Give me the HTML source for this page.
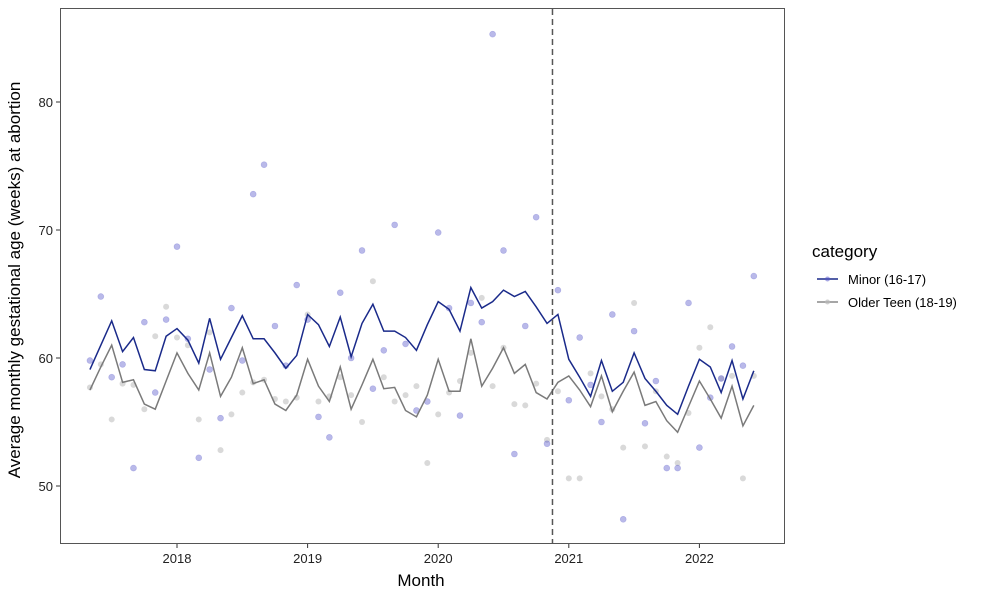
<!DOCTYPE html>
<html><head><meta charset="utf-8"><style>
html,body{margin:0;padding:0;background:#fff;}
svg{display:block;font-family:"Liberation Sans",Arial,sans-serif;}
</style></head><body>
<svg id="chart" width="1000" height="600" viewBox="0 0 1000 600">
<rect x="0" y="0" width="1000" height="600" fill="#fff"/>
<g id="grid"></g>
<rect x="60.5" y="8.5" width="724" height="535" fill="none" stroke="#555" stroke-width="1"/>
<text x="20" y="280" transform="rotate(-90 20 280)" text-anchor="middle" font-size="17" fill="#000">Average monthly gestational age (weeks) at abortion</text>
<text x="421" y="586" text-anchor="middle" font-size="17" fill="#000">Month</text>
<g>
<text x="812" y="257" font-size="17" fill="#000">category</text>
<g>
<line x1="817" y1="279" x2="838" y2="279" stroke="#1a2a8a" stroke-width="1.5"/>
<circle cx="827.5" cy="279" r="2.5" fill="#5050c8" fill-opacity="0.5"/>
<text x="848" y="284" font-size="13" fill="#000">Minor (16-17)</text>
</g>
<g>
<line x1="817" y1="302" x2="838" y2="302" stroke="#888" stroke-width="1.5"/>
<circle cx="827.5" cy="302" r="2.5" fill="#bbb" fill-opacity="0.7"/>
<text x="848" y="307" font-size="13" fill="#000">Older Teen (18-19)</text>
</g>
</g>
</svg>
<script>
const startYear = 2017, startMonth = 4; // May 2017 (0-based month)
const minorLine = [59.1,61.0,62.9,60.5,61.6,59.1,59.0,61.7,62.3,61.4,59.6,63.1,59.9,61.6,63.3,61.5,61.5,60.4,59.2,60.2,63.4,62.6,60.9,63.2,60.1,62.7,64.2,62.1,62.1,61.6,60.6,62.6,64.4,63.8,62.1,65.5,63.9,64.4,65.3,64.8,65.2,64.0,62.7,63.4,59.9,58.5,57.0,59.8,57.4,58.1,60.4,58.4,57.4,56.3,55.6,57.8,59.9,59.3,57.3,59.8,56.8,59.0];
const olderLine = [57.5,59.3,61.0,58.1,58.3,56.4,56.0,58.2,60.4,58.8,57.5,60.4,57.0,58.5,60.8,58.0,58.3,56.4,55.9,57.1,59.9,57.8,56.6,59.3,56.0,57.9,59.9,57.6,57.7,55.9,55.4,57.1,59.9,57.4,57.4,61.5,57.8,59.2,60.8,58.8,59.5,57.3,56.8,58.1,58.6,57.5,56.2,58.6,55.8,57.4,58.9,56.3,56.6,55.1,54.2,56.2,58.2,56.8,55.3,57.8,54.7,56.3];
const minorPts = [59.8,64.8,58.5,59.5,51.4,62.8,57.3,63.0,68.7,61.5,52.2,59.1,55.3,63.9,59.8,72.8,75.1,62.5,59.4,65.7,63.0,55.4,53.8,65.1,60.0,68.4,57.6,60.6,70.4,61.1,55.9,56.6,69.8,63.9,55.5,64.3,62.8,85.3,68.4,52.5,62.5,71.0,53.3,65.3,56.7,61.6,57.9,55.0,63.4,47.4,62.1,54.9,58.2,51.4,51.4,64.3,53.0,56.9,58.4,60.9,59.4,66.4];
const olderPts = [57.7,59.5,55.2,58.0,57.9,56.0,61.7,64.0,61.6,61.0,55.2,62.0,52.8,55.6,57.3,58.1,58.3,56.8,56.6,56.9,63.4,56.6,57.0,58.5,57.1,55.0,66.0,58.5,56.6,57.1,57.8,51.8,55.6,57.3,58.2,60.4,64.7,57.8,60.8,56.4,56.3,58.0,53.6,57.4,50.6,50.6,58.8,57.0,56.0,53.0,64.3,53.1,57.4,52.3,51.8,55.7,60.8,62.4,58.4,58.6,50.6,58.6];
const yTicks = [50,60,70,80];
const xTicks = [2018,2019,2020,2021,2022];
const cutoffDate = 2020 + 10.5/12; // dashed vertical line

const NS = "http://www.w3.org/2000/svg";
const g = document.getElementById("grid");
function X(t){ return 177 + (t - 2018) * 130.6; }
function Y(v){ return 358 - (v - 60) * 12.8; }
function tAt(i){ return startYear + (startMonth + i) / 12; }
function mk(tag, attrs, parent){ const e = document.createElementNS(NS, tag); for (const k in attrs) e.setAttribute(k, attrs[k]); (parent||g).appendChild(e); return e; }

yTicks.forEach(v => {
  const tk = mk("line", {x1:56, x2:60, y1:Y(v), y2:Y(v), stroke:"#333"});
  
  
  const tx = mk("text", {x:53, y:Y(v)+5, "text-anchor":"end", "font-size":13, fill:"#222"});
  tx.textContent = v;
  
  
});
xTicks.forEach(v => {
  const tk = mk("line", {x1:X(v), x2:X(v), y1:544, y2:548, stroke:"#333"});
  
  
  const tx = mk("text", {x:X(v), y:563, "text-anchor":"middle", "font-size":13, fill:"#222"});
  tx.textContent = v;
  
  
});

olderPts.forEach((v,i) => {
  const c = mk("circle", {cx:X(tAt(i)), cy:Y(v), r:3, fill:"#b4b4b4", "fill-opacity":0.5});
  
  
});
minorPts.forEach((v,i) => {
  const c = mk("circle", {cx:X(tAt(i)), cy:Y(v), r:3, fill:"#5050c8", "fill-opacity":0.4, stroke:"#5050c8", "stroke-opacity":0.3, "stroke-width":0.6});
  
  
});

const lo = mk("polyline", {points: olderLine.map((v,i)=>X(tAt(i))+","+Y(v)).join(" "), fill:"none", stroke:"#7a7a7a", "stroke-width":1.5});


const lm = mk("polyline", {points: minorLine.map((v,i)=>X(tAt(i))+","+Y(v)).join(" "), fill:"none", stroke:"#1a2a8a", "stroke-width":1.5});



const dl = mk("line", {x1:X(cutoffDate), x2:X(cutoffDate), y1:9, y2:543, stroke:"#555", "stroke-width":1.5, "stroke-dasharray":"6,4"});


</script>
</body></html>
